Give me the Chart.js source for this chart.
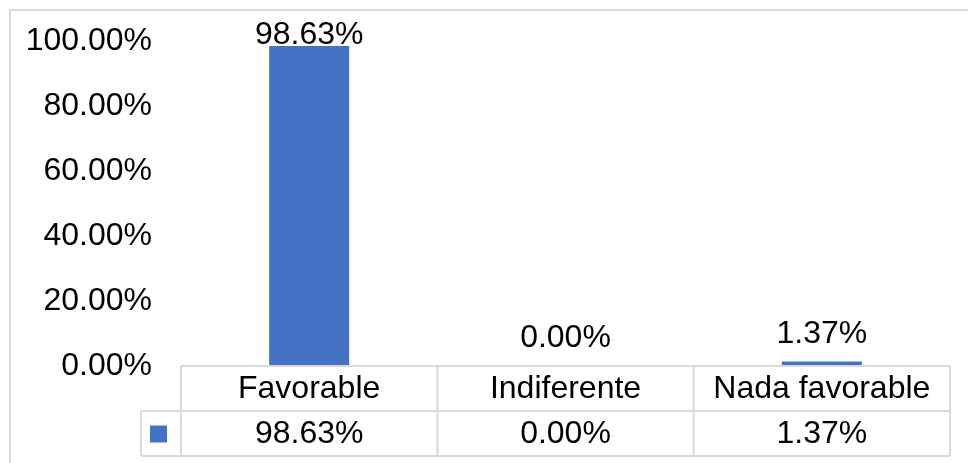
<!DOCTYPE html>
<html>
<head>
<meta charset="utf-8">
<script src="https://cdn.jsdelivr.net/npm/chart.js@4"></script>
<style>
  body { margin: 0; background: #fff; }
  canvas { display: block; }
</style>
</head>
<body>
<canvas id="myChart" width="968" height="463"></canvas>
<script>
const categories = ['Favorable', 'Indiferente', 'Nada favorable'];
const values = [98.63, 0.00, 1.37];
const yTicks = [0, 20, 40, 60, 80, 100];

const FAMILY = '"Liberation Sans", Arial, sans-serif';
const FONT = '32px ' + FAMILY;
const BAR_COLOR = '#4472C4';
const LINE_COLOR = '#d9d9d9';

function pct(v) {
    return v.toFixed(2) + '%';
}

// outer frame, data labels and the data table under the plot
const tablePlugin = {
    id: 'tablePlugin',
    beforeDraw(chart) {
        const ctx = chart.ctx;
        ctx.save();
        ctx.fillStyle = '#fff';
        ctx.fillRect(0, 0, chart.width, chart.height);
        ctx.restore();
    },
    afterDraw(chart) {
        const ctx = chart.ctx;
        const area = chart.chartArea;
        const x = chart.scales.x;
        const colW = (area.right - area.left) / categories.length;
        const rowH = 45;
        const top = area.bottom;

        ctx.save();
        // frame
        ctx.strokeStyle = LINE_COLOR;
        ctx.lineWidth = 2;
        ctx.strokeRect(10, 10, chart.width + 20, chart.height + 20);

        // table lines
        ctx.beginPath();
        ctx.moveTo(area.left, top);
        ctx.lineTo(area.right, top);
        ctx.moveTo(141, top + rowH);
        ctx.lineTo(area.right, top + rowH);
        ctx.moveTo(141, top + rowH * 2);
        ctx.lineTo(area.right, top + rowH * 2);
        ctx.moveTo(141, top + rowH);
        ctx.lineTo(141, top + rowH * 2);
        for (let i = 0; i <= categories.length; i++) {
            const lx = area.left + colW * i;
            ctx.moveTo(lx, top);
            ctx.lineTo(lx, top + rowH * 2);
        }
        ctx.stroke();

        // legend key
        ctx.fillStyle = BAR_COLOR;
        ctx.fillRect(150, top + rowH * 1.5 - 8, 17, 17);

        // table text
        ctx.fillStyle = '#000';
        ctx.font = FONT;
        ctx.textAlign = 'center';
        ctx.textBaseline = 'middle';
        categories.forEach((c, i) => {
            const cx = x.getPixelForValue(i);
            ctx.fillText(c, cx, top + rowH * 0.5 + 1);
            ctx.fillText(pct(values[i]), cx, top + rowH * 1.5 + 1);
        });

        // data labels above bars
        ctx.textBaseline = 'alphabetic';
        const meta = chart.getDatasetMeta(0);
        meta.data.forEach((bar, i) => {
            const by = Math.max(bar.y - 19, 44);
            ctx.fillText(pct(values[i]), bar.x, by);
        });
        ctx.restore();
    }
};

const ctx = document.getElementById('myChart').getContext('2d');
new Chart(ctx, {
    type: 'bar',
    data: {
        labels: categories,
        datasets: [{
            label: 'Serie 1',
            data: values,
            backgroundColor: BAR_COLOR,
            borderWidth: 0,
            barPercentage: 0.312,
            categoryPercentage: 1
        }]
    },
    options: {
        responsive: false,
        animation: false,
        layout: {
            padding: { left: 20, right: 18, top: 41.5, bottom: 97 }
        },
        plugins: {
            legend: { display: false },
            tooltip: { enabled: false }
        },
        scales: {
            x: { display: false },
            y: {
                min: 0,
                max: 100,
                afterFit(scale) {
                    scale.width = 161;
                    scale.paddingTop = 0;
                    scale.paddingBottom = 0;
                },
                afterBuildTicks(scale) {
                    scale.ticks = yTicks.map(v => ({ value: v }));
                },
                grid: { display: false, drawTicks: false, tickLength: 0 },
                border: { display: false },
                ticks: {
                    padding: 29,
                    color: '#000',
                    font: { family: FAMILY, size: 32 },
                    callback: v => pct(v)
                }
            }
        }
    },
    plugins: [tablePlugin]
});
</script>
</body>
</html>
